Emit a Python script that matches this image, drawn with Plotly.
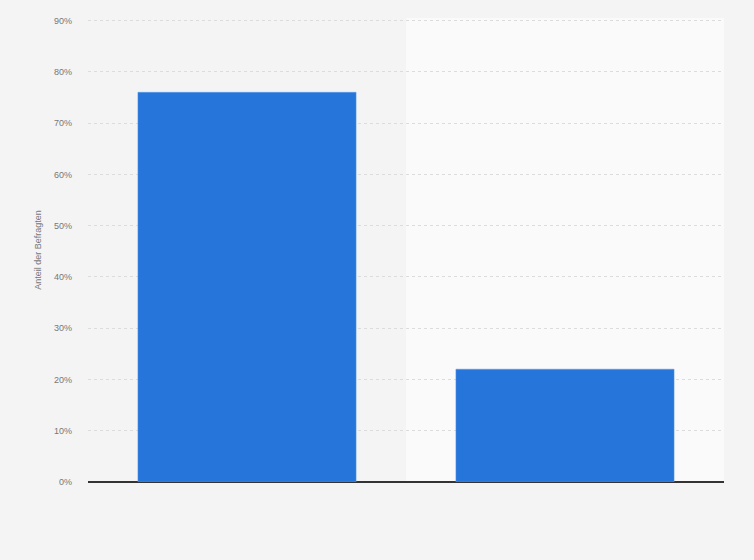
import plotly.graph_objects as go

categories = ["Kategorie A", "Kategorie B"]
values = [76, 22]
y_ticks = [0, 10, 20, 30, 40, 50, 60, 70, 80, 90]
y_tick_labels = [f"{v}%" for v in y_ticks]

fig = go.Figure()
fig.add_trace(go.Bar(x=categories, y=values, marker=dict(color="#2675da", line=dict(color="#5b96e3", width=0.5)),
                     hoverinfo="y"))

# lighter band behind the second category
fig.add_shape(type="rect", xref="x domain", yref="y domain", x0=0.5, x1=1, y0=0, y1=1,
              fillcolor="#fafafa", line=dict(width=0), layer="below")

fig.update_layout(
    width=754, height=560,
    margin=dict(l=88, r=30, t=18, b=78),
    paper_bgcolor="#f4f4f4",
    plot_bgcolor="#f4f4f4",
    font=dict(family="Arial, Liberation Sans, sans-serif", color="#777777", size=9),
    bargap=0.314,
    showlegend=False,
    xaxis=dict(showticklabels=False, showgrid=False, zeroline=False, showline=False),
    yaxis=dict(
        range=[0, 90.5],
        tickmode="array",
        tickvals=y_ticks,
        ticktext=y_tick_labels,
        showgrid=True, gridcolor="#dcdcdc", griddash="dot", gridwidth=1,
        zeroline=True, zerolinecolor="#333333", zerolinewidth=1.5,
        ticklabelstandoff=15,
        title=dict(text="Anteil der Befragten", font=dict(size=9, color="#777777"), standoff=10),
    ),
)

fig.write_html("out.html", config={"displayModeBar": False},
               post_script="document.body.style.margin='0';")
